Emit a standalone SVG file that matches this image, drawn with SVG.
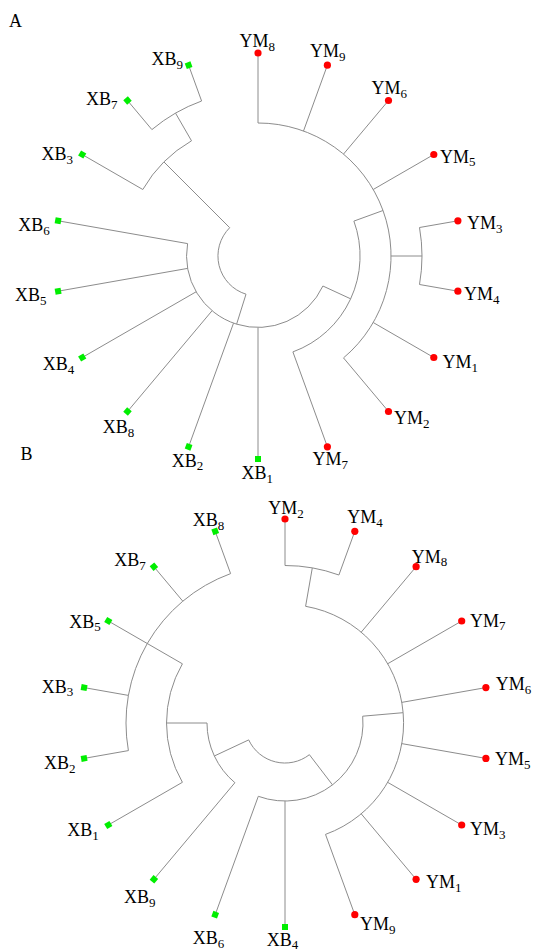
<svg xmlns="http://www.w3.org/2000/svg" width="535" height="952" viewBox="0 0 535 952">
  <style>
    .br { fill: none; stroke: #8c8c8c; stroke-width: 1; }
    .lab { font-family: "Liberation Serif", "Times New Roman", serif; font-size: 18px; fill: #000; }
    .sub { font-size: 13px; }
    .ym { fill: #ff0000; }
    .xb { fill: #00ee00; }
  </style>
  <defs>
    <circle id="dotYM" r="3.6" class="ym"/>
    <rect id="sqXB" x="-3" y="-3" width="6" height="6" class="xb"/>
  </defs>
  <rect width="535" height="952" fill="#fff"/>

  <text class="lab" x="9" y="27">A</text>
  <text class="lab" x="20.5" y="460">B</text>

  <!-- Tree A: centre (258,256), tips at r=203 -->
  <g id="treeA-connectors">
    <path class="br" d="M246.0 294.2 A40 40 0 0 1 229.7 227.7"/>
    <path class="br" d="M229.7 227.7 L164.0 162.0"/>
    <path class="br" d="M142.8 189.5 A133 133 0 0 1 191.5 140.8"/>
    <path class="br" d="M191.5 140.8 L175.5 113.1"/>
    <path class="br" d="M151.9 129.6 A165 165 0 0 1 201.6 101.0"/>
    <path class="br" d="M142.8 189.5 L82.2 154.5"/>
    <path class="br" d="M151.9 129.6 L127.5 100.5"/>
    <path class="br" d="M201.6 101.0 L188.6 65.2"/>
    <path class="br" d="M246.0 294.2 L236.6 324.2"/>
    <path class="br" d="M322.9 286.0 A71.5 71.5 0 0 1 187.6 243.6"/>
    <path class="br" d="M187.6 243.6 L58.1 220.8"/>
    <path class="br" d="M187.6 268.4 L58.1 291.2"/>
    <path class="br" d="M196.1 291.8 L82.2 357.5"/>
    <path class="br" d="M212.0 310.8 L127.5 411.5"/>
    <path class="br" d="M233.5 323.2 L188.6 446.8"/>
    <path class="br" d="M258 327.5 L258 459"/>
    <path class="br" d="M322.9 286.0 L350.6 298.8"/>
    <path class="br" d="M353.9 221.1 A102 102 0 0 1 292.9 351.9"/>
    <path class="br" d="M292.9 351.9 L327.4 446.8"/>
    <path class="br" d="M353.9 221.1 L383.0 210.5"/>
    <path class="br" d="M258 123 A133 133 0 0 1 343.5 357.9"/>
    <path class="br" d="M258 123 L258 53"/>
    <path class="br" d="M303.5 131.0 L327.4 65.2"/>
    <path class="br" d="M343.5 154.1 L388.5 100.5"/>
    <path class="br" d="M373.2 189.5 L433.8 154.5"/>
    <path class="br" d="M373.2 322.5 L433.8 357.5"/>
    <path class="br" d="M343.5 357.9 L388.5 411.5"/>
    <path class="br" d="M391 256 L422 256"/>
    <path class="br" d="M419.5 227.5 A164 164 0 0 1 419.5 284.5"/>
    <path class="br" d="M419.5 227.5 L457.9 220.8"/>
    <path class="br" d="M419.5 284.5 L457.9 291.2"/>
  </g>

  <g id="A-YM8"><use href="#dotYM" x="258" y="53"/><text class="lab" x="239.5" y="47">YM<tspan class="sub" dy="3.5">8</tspan></text></g>
  <g id="A-YM9"><use href="#dotYM" x="327.4" y="65.2"/><text class="lab" x="310" y="57">YM<tspan class="sub" dy="3.5">9</tspan></text></g>
  <g id="A-YM6"><use href="#dotYM" x="388.5" y="100.5"/><text class="lab" x="371.5" y="94">YM<tspan class="sub" dy="3.5">6</tspan></text></g>
  <g id="A-YM5"><use href="#dotYM" x="433.8" y="154.5"/><text class="lab" x="440" y="162.5">YM<tspan class="sub" dy="3.5">5</tspan></text></g>
  <g id="A-YM3"><use href="#dotYM" x="457.9" y="220.8"/><text class="lab" x="467" y="229">YM<tspan class="sub" dy="3.5">3</tspan></text></g>
  <g id="A-YM4"><use href="#dotYM" x="457.9" y="291.2"/><text class="lab" x="464" y="300">YM<tspan class="sub" dy="3.5">4</tspan></text></g>
  <g id="A-YM1"><use href="#dotYM" x="433.8" y="357.5"/><text class="lab" x="442.5" y="368">YM<tspan class="sub" dy="3.5">1</tspan></text></g>
  <g id="A-YM2"><use href="#dotYM" x="388.5" y="411.5"/><text class="lab" x="394" y="424">YM<tspan class="sub" dy="3.5">2</tspan></text></g>
  <g id="A-YM7"><use href="#dotYM" x="327.4" y="446.8"/><text class="lab" x="312.5" y="465">YM<tspan class="sub" dy="3.5">7</tspan></text></g>

  <g id="A-XB9"><use href="#sqXB" transform="translate(188.6 65.2) rotate(250)"/><text class="lab" x="151.5" y="65">XB<tspan class="sub" dy="3.5">9</tspan></text></g>
  <g id="A-XB7"><use href="#sqXB" transform="translate(127.5 100.5) rotate(230)"/><text class="lab" x="86" y="105">XB<tspan class="sub" dy="3.5">7</tspan></text></g>
  <g id="A-XB3"><use href="#sqXB" transform="translate(82.2 154.5) rotate(210)"/><text class="lab" x="41.5" y="160">XB<tspan class="sub" dy="3.5">3</tspan></text></g>
  <g id="A-XB6"><use href="#sqXB" transform="translate(58.1 220.8) rotate(190)"/><text class="lab" x="18.3" y="231">XB<tspan class="sub" dy="3.5">6</tspan></text></g>
  <g id="A-XB5"><use href="#sqXB" transform="translate(58.1 291.2) rotate(170)"/><text class="lab" x="15" y="301">XB<tspan class="sub" dy="3.5">5</tspan></text></g>
  <g id="A-XB4"><use href="#sqXB" transform="translate(82.2 357.5) rotate(150)"/><text class="lab" x="42.7" y="370">XB<tspan class="sub" dy="3.5">4</tspan></text></g>
  <g id="A-XB8"><use href="#sqXB" transform="translate(127.5 411.5) rotate(130)"/><text class="lab" x="102.7" y="433">XB<tspan class="sub" dy="3.5">8</tspan></text></g>
  <g id="A-XB2"><use href="#sqXB" transform="translate(188.6 446.8) rotate(110)"/><text class="lab" x="171.7" y="466.5">XB<tspan class="sub" dy="3.5">2</tspan></text></g>
  <g id="A-XB1"><use href="#sqXB" transform="translate(258 459) rotate(90)"/><text class="lab" x="241.5" y="479">XB<tspan class="sub" dy="3.5">1</tspan></text></g>

  <!-- Tree B: centre (285,723), tips at r=204 -->
  <g id="treeB-connectors">
    <path class="br" d="M309.4 754.7 A40 40 0 0 1 248.7 739.9"/>
    <path class="br" d="M248.7 739.9 L214.3 756.0"/>
    <path class="br" d="M234.9 782.7 A78 78 0 0 1 207 723"/>
    <path class="br" d="M234.9 782.7 L153.9 879.3"/>
    <path class="br" d="M207 723 L166.5 723"/>
    <path class="br" d="M182.4 782.3 A118.5 118.5 0 0 1 182.4 663.8"/>
    <path class="br" d="M182.4 782.3 L108.3 825"/>
    <path class="br" d="M182.4 663.8 L108.3 621"/>
    <path class="br" d="M128.4 750.6 A159 159 0 0 1 230.6 573.6"/>
    <path class="br" d="M128.4 750.6 L84.1 758.4"/>
    <path class="br" d="M128.4 695.4 L84.1 687.6"/>
    <path class="br" d="M182.8 601.2 L153.9 566.7"/>
    <path class="br" d="M230.6 573.6 L215.2 531.3"/>
    <path class="br" d="M309.4 754.7 L332.5 784.9"/>
    <path class="br" d="M362.7 716.2 A78 78 0 0 1 258.3 796.3"/>
    <path class="br" d="M285 801 L285 927"/>
    <path class="br" d="M258.3 796.3 L215.2 914.7"/>
    <path class="br" d="M362.7 716.2 L403.0 712.7"/>
    <path class="br" d="M305.6 606.3 A118.5 118.5 0 0 1 325.5 834.4"/>
    <path class="br" d="M361.2 632.2 L416.1 566.7"/>
    <path class="br" d="M387.6 663.8 L461.7 621"/>
    <path class="br" d="M401.7 702.4 L485.9 687.6"/>
    <path class="br" d="M401.7 743.6 L485.9 758.4"/>
    <path class="br" d="M387.6 782.3 L461.7 825"/>
    <path class="br" d="M361.2 813.8 L416.1 879.3"/>
    <path class="br" d="M325.5 834.4 L354.8 914.7"/>
    <path class="br" d="M305.6 606.3 L312.3 567.9"/>
    <path class="br" d="M285 565.5 A157.5 157.5 0 0 1 338.9 575"/>
    <path class="br" d="M285 565.5 L285 519"/>
    <path class="br" d="M338.9 575 L354.8 531.3"/>
  </g>

  <g id="B-XB8"><use href="#sqXB" transform="translate(215.2 531.3) rotate(250)"/><text class="lab" x="192.7" y="526">XB<tspan class="sub" dy="3.5">8</tspan></text></g>
  <g id="B-XB7"><use href="#sqXB" transform="translate(153.9 566.7) rotate(230)"/><text class="lab" x="114.3" y="566">XB<tspan class="sub" dy="3.5">7</tspan></text></g>
  <g id="B-XB5"><use href="#sqXB" transform="translate(108.3 621) rotate(210)"/><text class="lab" x="69.3" y="627.5">XB<tspan class="sub" dy="3.5">5</tspan></text></g>
  <g id="B-XB3"><use href="#sqXB" transform="translate(84.1 687.6) rotate(190)"/><text class="lab" x="41.7" y="692.5">XB<tspan class="sub" dy="3.5">3</tspan></text></g>
  <g id="B-XB2"><use href="#sqXB" transform="translate(84.1 758.4) rotate(170)"/><text class="lab" x="44" y="769">XB<tspan class="sub" dy="3.5">2</tspan></text></g>
  <g id="B-XB1"><use href="#sqXB" transform="translate(108.3 825) rotate(150)"/><text class="lab" x="67.3" y="836">XB<tspan class="sub" dy="3.5">1</tspan></text></g>
  <g id="B-XB9"><use href="#sqXB" transform="translate(153.9 879.3) rotate(130)"/><text class="lab" x="124" y="903">XB<tspan class="sub" dy="3.5">9</tspan></text></g>
  <g id="B-XB6"><use href="#sqXB" transform="translate(215.2 914.7) rotate(110)"/><text class="lab" x="192.7" y="944">XB<tspan class="sub" dy="3.5">6</tspan></text></g>
  <g id="B-XB4"><use href="#sqXB" transform="translate(285 927) rotate(90)"/><text class="lab" x="266.7" y="946">XB<tspan class="sub" dy="2.5">4</tspan></text></g>

  <g id="B-YM9"><use href="#dotYM" x="354.8" y="914.7"/><text class="lab" x="360" y="930">YM<tspan class="sub" dy="3.5">9</tspan></text></g>
  <g id="B-YM1"><use href="#dotYM" x="416.1" y="879.3"/><text class="lab" x="426" y="888">YM<tspan class="sub" dy="3.5">1</tspan></text></g>
  <g id="B-YM3"><use href="#dotYM" x="461.7" y="825"/><text class="lab" x="470" y="835">YM<tspan class="sub" dy="3.5">3</tspan></text></g>
  <g id="B-YM5"><use href="#dotYM" x="485.9" y="758.4"/><text class="lab" x="495" y="765">YM<tspan class="sub" dy="3.5">5</tspan></text></g>
  <g id="B-YM6"><use href="#dotYM" x="485.9" y="687.6"/><text class="lab" x="495.7" y="690">YM<tspan class="sub" dy="3.5">6</tspan></text></g>
  <g id="B-YM7"><use href="#dotYM" x="461.7" y="621"/><text class="lab" x="470" y="626.5">YM<tspan class="sub" dy="3.5">7</tspan></text></g>
  <g id="B-YM8"><use href="#dotYM" x="416.1" y="566.7"/><text class="lab" x="411.7" y="562.5">YM<tspan class="sub" dy="3.5">8</tspan></text></g>
  <g id="B-YM4"><use href="#dotYM" x="354.8" y="531.3"/><text class="lab" x="347.3" y="523">YM<tspan class="sub" dy="3.5">4</tspan></text></g>
  <g id="B-YM2"><use href="#dotYM" x="285" y="519"/><text class="lab" x="268.3" y="514">YM<tspan class="sub" dy="3.5">2</tspan></text></g>
</svg>
